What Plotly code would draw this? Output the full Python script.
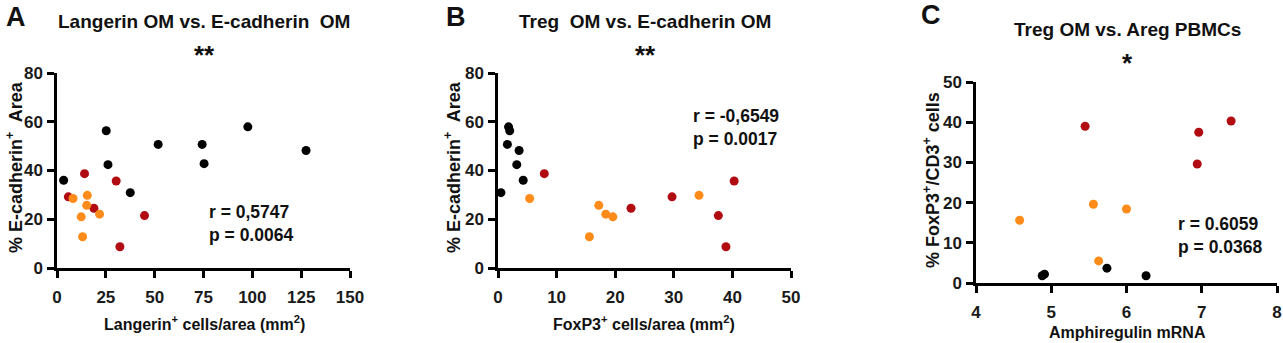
import plotly.graph_objects as go

# ---------------- data ----------------
# Panel A: Langerin+ cells/area vs % E-cadherin+ area
a_black_x = [3.4, 25.2, 26.1, 37.5, 51.8, 74.3, 75.3, 97.7, 127.5]
a_black_y = [36.0, 56.3, 42.4, 30.9, 50.7, 50.7, 42.8, 57.9, 48.2]
a_red_x = [5.8, 14.1, 18.9, 30.3, 44.8, 32.2]
a_red_y = [29.2, 38.7, 24.5, 35.7, 21.5, 8.7]
a_orange_x = [8.2, 15.5, 15.2, 12.4, 21.8, 13.1]
a_orange_y = [28.5, 29.8, 25.7, 21.0, 22.1, 12.8]

# Panel B: FoxP3+ cells/area vs % E-cadherin+ area
b_black_x = [0.5, 1.8, 2.0, 1.6, 3.6, 3.2, 4.3]
b_black_y = [30.9, 57.9, 56.3, 50.7, 48.2, 42.4, 36.0]
b_red_x = [7.9, 22.7, 29.7, 40.3, 37.6, 38.9]
b_red_y = [38.7, 24.5, 29.2, 35.7, 21.5, 8.7]
b_orange_x = [5.4, 17.2, 18.4, 19.6, 15.6, 34.3]
b_orange_y = [28.5, 25.7, 22.1, 21.0, 12.8, 29.8]

# Panel C: Amphiregulin mRNA vs % FoxP3+/CD3+ cells
c_black_x = [4.88, 4.91, 5.74, 6.26]
c_black_y = [1.8, 2.2, 3.7, 1.8]
c_red_x = [5.45, 6.96, 6.94, 7.39]
c_red_y = [39.0, 37.5, 29.6, 40.3]
c_orange_x = [4.58, 5.56, 6.00, 5.63]
c_orange_y = [15.6, 19.6, 18.4, 5.5]

panel_letters = ["A", "B", "C"]
titles = ["Langerin OM vs. E-cadherin  OM", "Treg  OM vs. E-cadherin OM", "Treg OM vs. Areg PBMCs"]
stars = ["**", "**", "*"]
stats = ["r = 0,5747<br>p = 0.0064", "r = -0,6549<br>p = 0.0017", "r = 0.6059<br>p = 0.0368"]
x_titles = ["Langerin<sup>+</sup> cells/area (mm<sup>2</sup>)",
            "FoxP3<sup>+</sup> cells/area (mm<sup>2</sup>)",
            "Amphiregulin mRNA"]
y_titles = ["% E-cadherin<sup>+</sup>  Area", "% E-cadherin<sup>+</sup>  Area",
            "% FoxP3<sup>+</sup>/CD3<sup>+</sup> cells"]

# tick values / labels
a_xticks = [0, 25, 50, 75, 100, 125, 150]
b_xticks = [0, 10, 20, 30, 40, 50]
c_xticks = [4, 5, 6, 7, 8]
ab_yticks = [0, 20, 40, 60, 80]
c_yticks = [0, 10, 20, 30, 40, 50]
x_tickvals = [a_xticks, b_xticks, c_xticks]
y_tickvals = [ab_yticks, ab_yticks, c_yticks]

BLACK = "#000000"
RED = "#B00C12"
ORANGE = "#FF8C1A"
FONT = "Liberation Sans"

W, H = 1283, 343
# plot-area pixel boxes (left, right, top, bottom)
boxes = [(57, 350, 73, 268), (498, 791, 73, 268), (976, 1277, 82, 283)]

fig = go.Figure()
series = [
    (a_black_x, a_black_y, a_red_x, a_red_y, a_orange_x, a_orange_y),
    (b_black_x, b_black_y, b_red_x, b_red_y, b_orange_x, b_orange_y),
    (c_black_x, c_black_y, c_red_x, c_red_y, c_orange_x, c_orange_y),
]

layout = {}
for i, (bx, by, rx, ry, ox, oy) in enumerate(series):
    sfx = "" if i == 0 else str(i + 1)
    xa, ya = "x" + sfx, "y" + sfx
    for xs, ys, col in [(bx, by, BLACK), (rx, ry, RED), (ox, oy, ORANGE)]:
        fig.add_trace(go.Scatter(x=xs, y=ys, mode="markers", xaxis=xa, yaxis=ya,
                                 marker=dict(color=col, size=9, line=dict(width=0)),
                                 showlegend=False, cliponaxis=False, hoverinfo="skip"))
    l, r, t, b = boxes[i]
    axis_common = dict(showline=True, linecolor="black", linewidth=2.5, ticks="outside",
                       ticklen=7, tickwidth=2.5, tickcolor="black", showgrid=False,
                       zeroline=False, automargin=False,
                       tickfont=dict(family=FONT, size=17, color="#1a1a1a"))
    xv, yv = x_tickvals[i], y_tickvals[i]
    layout["xaxis" + sfx] = dict(domain=[l / W, r / W], range=[xv[0], xv[-1]],
                                 tickmode="array", tickvals=xv,
                                 ticktext=["<b>%g</b>" % v for v in xv],
                                 anchor=ya, ticklabelstandoff=5, **axis_common)
    layout["yaxis" + sfx] = dict(domain=[1 - b / H, 1 - t / H], range=[yv[0], yv[-1]],
                                 tickmode="array", tickvals=yv,
                                 ticktext=["<b>%g</b>" % v for v in yv],
                                 anchor=xa, ticklabelstandoff=1, **axis_common)

fig.update_layout(**layout)

ann = []
def px(x, y, text, size, xanchor="center", yanchor="middle", angle=0, align="center"):
    ann.append(dict(x=x / W, y=1 - y / H, xref="paper", yref="paper", text="<b>" + text + "</b>",
                    showarrow=False, xanchor=xanchor, yanchor=yanchor, textangle=angle,
                    align=align,
                    font=dict(family=FONT, size=size, color="#111")))

letter_pos = [(4, 17), (444, 17), (919, 15)]
title_pos = [(204, 22), (645, 22), (1127, 30)]
star_pos = [(204, 55), (645, 55), (1127, 63)]
stat_pos = [(207, 224), (691, 127), (1176, 235)]
xt_pos = [(204, 323), (644, 323), (1127, 332)]
yt_pos = [(14, 167), (452, 167), (932, 180)]

for i in range(3):
    px(letter_pos[i][0], letter_pos[i][1], panel_letters[i], 27, xanchor="left")
    px(title_pos[i][0], title_pos[i][1], titles[i], 19)
    px(star_pos[i][0], star_pos[i][1], stars[i], 26)
    px(stat_pos[i][0], stat_pos[i][1], stats[i], 17.5, xanchor="left", align="left")
    px(xt_pos[i][0], xt_pos[i][1], x_titles[i], 16)
    px(yt_pos[i][0], yt_pos[i][1], y_titles[i], 18, angle=-90)

fig.update_layout(annotations=ann, width=W, height=H,
                  margin=dict(l=0, r=0, t=0, b=0, autoexpand=False),
                  paper_bgcolor="white", plot_bgcolor="white", hovermode=False)

fig.write_html("out.html", config={"displayModeBar": False},
               post_script="document.body.style.margin='0';")
